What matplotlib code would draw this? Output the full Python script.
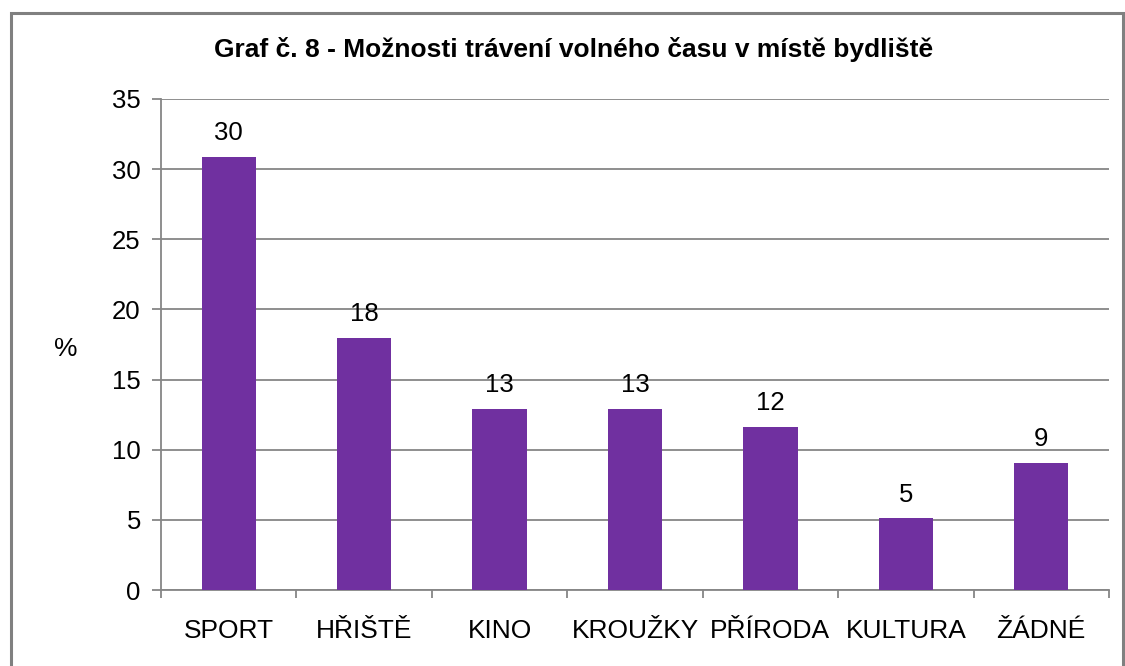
import matplotlib.pyplot as plt
import numpy as np
from matplotlib.patches import Rectangle

plt.rcParams['font.family'] = ['Liberation Sans', 'DejaVu Sans']

# data
kategorie = ['SPORT', 'HŘIŠTĚ', 'KINO', 'KROUŽKY', 'PŘÍRODA', 'KULTURA', 'ŽÁDNÉ']
hodnoty = [30.85, 17.95, 12.9, 12.9, 11.6, 5.1, 9.05]
popisky = ['30', '18', '13', '13', '12', '5', '9']

barva = '#7030A0'
seda = '#868686'

fig = plt.figure(figsize=(11.25, 6.66), dpi=100)
# outer frame
fig.patches.append(Rectangle((11/1125, -0.05), (1123-11)/1125, 1.05 - 13/666,
                             transform=fig.transFigure, fill=False,
                             edgecolor='#808080', linewidth=2.2))

ax = fig.add_axes([161/1125, 1-590/666, (1109-161)/1125, (590-99)/666])
x = np.arange(len(kategorie))
ax.bar(x, hodnoty, width=0.4, color=barva, zorder=3)

for xi, v, t in zip(x, hodnoty, popisky):
    ax.annotate(t, (xi, v), xytext=(0, 8.5), textcoords='offset points',
                ha='center', va='bottom', fontsize=18.5)

ax.set_xlim(-0.5, len(kategorie) - 0.5)
ax.set_ylim(0, 35)
ax.set_yticks(range(0, 36, 5))
ax.yaxis.grid(True, color=seda, linewidth=1.3, zorder=0)
ax.set_xticks(x)
ax.set_xticklabels(kategorie, fontsize=19)
ax.set_xticks(np.arange(-0.5, len(kategorie)), minor=True)
ax.tick_params(axis='x', which='major', length=0, pad=21)
ax.tick_params(axis='x', which='minor', length=6, color=seda, width=1.3)
ax.tick_params(axis='y', labelsize=18.5, length=6.5, color=seda, width=1.3, pad=8)

for s in ['top', 'right']:
    ax.spines[s].set_visible(False)
for s in ['left', 'bottom']:
    ax.spines[s].set_color(seda)
    ax.spines[s].set_linewidth(1.3)

ax.set_ylabel('%', fontsize=19, rotation=0, va='center')
ax.yaxis.set_label_coords(-0.1, 0.49)

fig.text(574/1125, 1-49/666, 'Graf č. 8 - Možnosti trávení volného času v místě bydliště',
         ha='center', va='center', fontsize=19, fontweight='bold')

fig.savefig('out.png', dpi=100)
